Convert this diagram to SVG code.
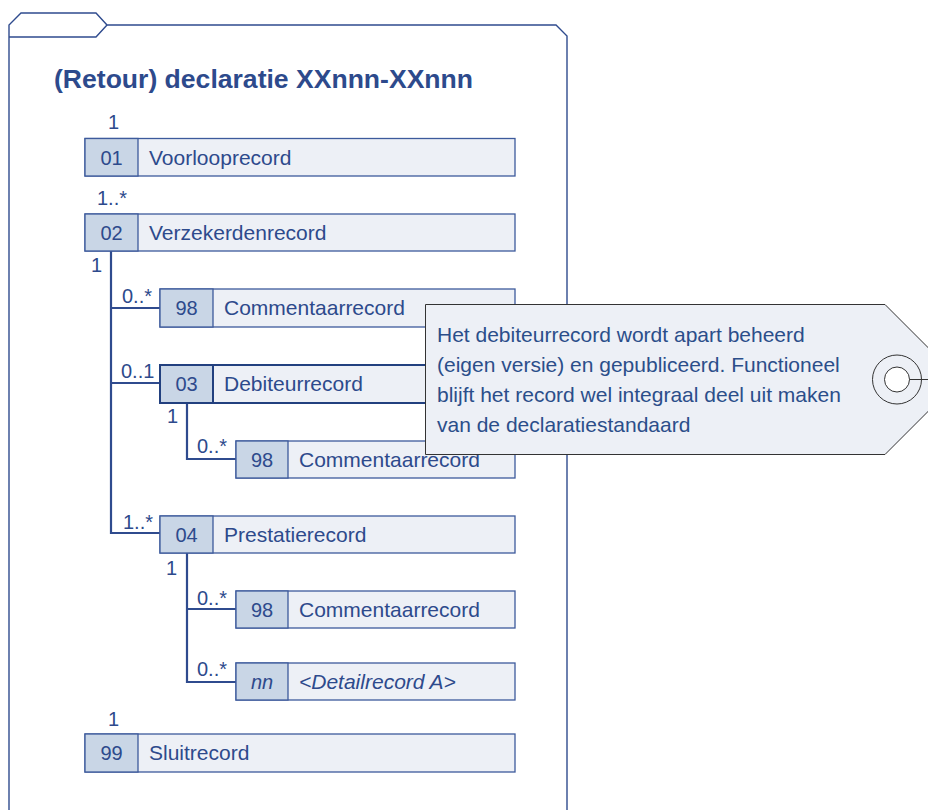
<svg xmlns="http://www.w3.org/2000/svg" width="928" height="810" viewBox="0 0 928 810">
<style>
.frame{fill:none;stroke:#2f4b8e;stroke-width:1.4}
.box{fill:#edf0f6;stroke:#3d5a9c;stroke-width:1.3}
.id{fill:#c9d6e6;stroke:#3d5a9c;stroke-width:1.3}
.sel{stroke:#22407f;stroke-width:2}
.t{font-family:"Liberation Sans",Arial,sans-serif;font-size:21px;fill:#2d4a8c}
.idt{font-family:"Liberation Sans",Arial,sans-serif;font-size:20px;fill:#2d4a8c;text-anchor:middle}
.m{font-family:"Liberation Sans",Arial,sans-serif;font-size:20px;fill:#2d4a8c}
.i{font-style:italic}
.con{fill:none;stroke:#2f4b8e;stroke-width:2.2}
.note{fill:#edf0f6;stroke:#333;stroke-width:1}
.nt{font-family:"Liberation Sans",Arial,sans-serif;font-size:21px;fill:#2b4e8a}
</style>
<rect width="928" height="810" fill="#fff"/>
<g id="package">
<path class="frame" d="M9,810 V25 L21,13 H96 L107,25 H556 L567,36 V810"/>
<path class="frame" d="M9,37 H96 L107,25"/>
<text x="54" y="87.5" font-family="'Liberation Sans',Arial,sans-serif" font-size="25.5" font-weight="bold" fill="#2d4a8c" textLength="419" lengthAdjust="spacingAndGlyphs">(Retour) declaratie XXnnn-XXnnn</text>
</g>
<g id="connectors">
<path class="con" d="M111,251 V533 H160"/>
<path class="con" d="M111,308 H160"/>
<path class="con" d="M111,383 H160"/>
<path class="con" d="M187,403 V459 H236"/>
<path class="con" d="M187,553 V682 H236"/>
<path class="con" d="M187,609 H236"/>
</g>
<g id="multiplicities">
<text class="m" x="108" y="129">1</text>
<text class="m" x="97" y="205">1..*</text>
<text class="m" x="91" y="272">1</text>
<text class="m" x="122" y="303">0..*</text>
<text class="m" x="121" y="378">0..1</text>
<text class="m" x="167" y="423">1</text>
<text class="m" x="197" y="453">0..*</text>
<text class="m" x="123" y="529">1..*</text>
<text class="m" x="166" y="575">1</text>
<text class="m" x="197" y="605">0..*</text>
<text class="m" x="197" y="676">0..*</text>
<text class="m" x="108" y="726">1</text>
</g>
<g id="r01">
<rect class="box" x="85" y="138.5" width="430" height="37.5"/>
<rect class="id" x="85" y="138.5" width="53" height="37.5"/>
<text class="idt" x="111.5" y="165">01</text>
<text class="t" x="149" y="165">Voorlooprecord</text>
</g>
<g id="r02">
<rect class="box" x="85" y="214" width="430" height="37"/>
<rect class="id" x="85" y="214" width="53" height="37"/>
<text class="idt" x="111.5" y="240">02</text>
<text class="t" x="149" y="240">Verzekerdenrecord</text>
</g>
<g id="r98a">
<rect class="box" x="160" y="289" width="355" height="38"/>
<rect class="id" x="160" y="289" width="53" height="38"/>
<text class="idt" x="186.5" y="315">98</text>
<text class="t" x="224" y="315">Commentaarrecord</text>
</g>
<g id="r03">
<rect class="box sel" x="160" y="365" width="355" height="38"/>
<rect class="id sel" x="160" y="365" width="53" height="38"/>
<text class="idt" x="186.5" y="391">03</text>
<text class="t" x="224" y="391">Debiteurrecord</text>
</g>
<g id="r98b">
<rect class="box" x="236" y="441" width="279" height="37"/>
<rect class="id" x="236" y="441" width="52" height="37"/>
<text class="idt" x="262" y="467">98</text>
<text class="t" x="299" y="467">Commentaarrecord</text>
</g>
<g id="r04">
<rect class="box" x="160" y="516" width="355" height="37"/>
<rect class="id" x="160" y="516" width="53" height="37"/>
<text class="idt" x="186.5" y="542">04</text>
<text class="t" x="224" y="542">Prestatierecord</text>
</g>
<g id="r98c">
<rect class="box" x="236" y="591" width="279" height="37"/>
<rect class="id" x="236" y="591" width="52" height="37"/>
<text class="idt" x="262" y="617">98</text>
<text class="t" x="299" y="617">Commentaarrecord</text>
</g>
<g id="rnn">
<rect class="box" x="236" y="663" width="279" height="37"/>
<rect class="id" x="236" y="663" width="52" height="37"/>
<text class="idt i" x="262" y="689">nn</text>
<text class="t i" x="299" y="689">&lt;Detailrecord A&gt;</text>
</g>
<g id="r99">
<rect class="box" x="85" y="734" width="430" height="38"/>
<rect class="id" x="85" y="734" width="53" height="38"/>
<text class="idt" x="111.5" y="760">99</text>
<text class="t" x="149" y="760">Sluitrecord</text>
</g>
<g id="note">
<polygon class="note" points="425.5,304.5 885,304.5 960,379.5 885,454.5 425.5,454.5"/>
<circle cx="897" cy="379.5" r="24.5" fill="none" stroke="#333" stroke-width="1"/>
<circle cx="897" cy="379.5" r="12.5" fill="#fff" stroke="#333" stroke-width="1"/>
<line x1="909.5" y1="379.5" x2="960" y2="379.5" stroke="#333" stroke-width="1"/>
<text class="nt" x="437" y="342">Het debiteurrecord wordt apart beheerd</text>
<text class="nt" x="437" y="372">(eigen versie) en gepubliceerd. Functioneel</text>
<text class="nt" x="437" y="402">blijft het record wel integraal deel uit maken</text>
<text class="nt" x="437" y="432">van de declaratiestandaard</text>
</g>
</svg>
